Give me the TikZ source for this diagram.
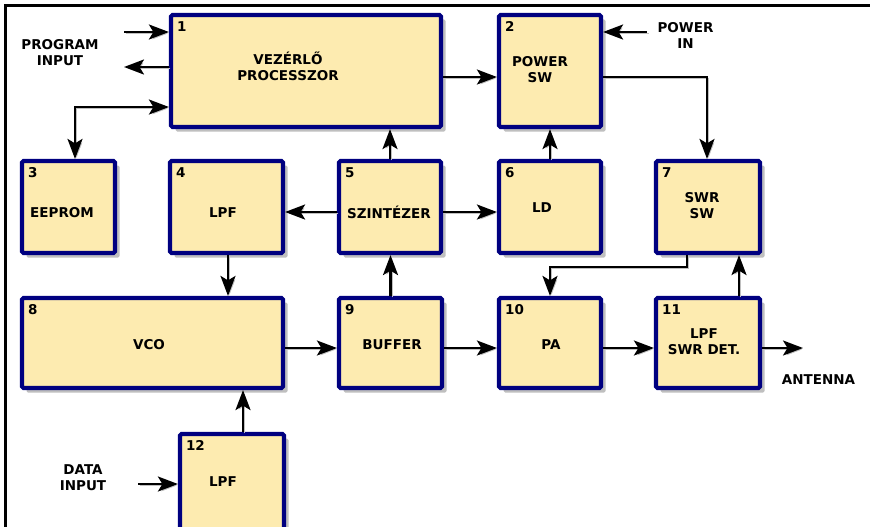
\documentclass[tikz,border=0pt]{standalone}
\usepackage{fontspec}
\setmainfont{DejaVu Sans}
\usetikzlibrary{arrows.meta,shadows}

\definecolor{blokkfill}{RGB}{253,235,176}
\definecolor{blokkkeret}{RGB}{0,0,128}

\tikzset{
  >={Stealth[length=20pt,width=15pt,inset=4.5pt]},
  blokk/.style={draw=blokkkeret, fill=blokkfill, line width=4.2pt, rounded corners=1.5pt,
    inner sep=0pt, drop shadow={shadow xshift=4.5pt, shadow yshift=-4.5pt, fill=black, opacity=0.25}},
  felirat/.style={font=\fontsize{13.5}{16}\selectfont\bfseries, align=center, inner sep=0pt},
  szam/.style={font=\fontsize{13.5}{16}\selectfont\bfseries, inner sep=0pt},
  nyil/.style={line width=2.3pt, ->, preaction={draw=black!25, transform canvas={shift={(1.5pt,-1.5pt)}}}},
  ketnyil/.style={nyil, <->},
}

\begin{document}
\begin{tikzpicture}[x=1pt,y=-1pt]
  \clip (0,0) rectangle (870,527);
  \draw[line width=2.5pt] (5.3,5.3) rectangle (900,560);

  % blocks with their numbers
  \foreach \n/\cx/\cy/\w/\h in {1/306/71/270/112, 2/550/71/102/112,
      3/68.5/207/93/92, 4/226.5/207/113/92, 5/390/207/102/92, 6/550/207/102/92, 7/708/207/104/92,
      8/152.5/343/261/90, 9/390.5/343/103/90, 10/550/343/102/90, 11/708/343/104/90,
      12/232/496/104/124} {
    \node[blokk, minimum width=\w pt, minimum height=\h pt] (b\n) at (\cx,\cy) {};
    \node[szam, anchor=base west] (n\n) at ([shift={(8pt,-19pt)}]b\n.north west) {\n};
  }

  % block texts
  \foreach \n/\tx/\ty/\t in {1/288/66/{VEZÉRLŐ\\PROCESSZOR}, 2/540/70/{POWER\\SW},
      3/62/213/EEPROM, 4/223/213/LPF, 5/389/212/SZINTÉZER, 6/542/208/LD, 7/702/206/{SWR\\SW},
      8/149/345/VCO, 9/392/345/BUFFER, 10/551/345/PA, 11/704/342/{LPF\\SWR DET.},
      12/223/482/LPF} {
    \node[felirat] (t\n) at (\tx,\ty) {\t};
  }

  % outside labels
  \node[felirat] (progin) at (60,53) {PROGRAM\\INPUT};
  \node[felirat] (powerin) at (685.5,35) {POWER\\IN};
  \node[felirat] (datain) at (83,478) {DATA\\INPUT};
  \node[felirat] (antenna) at (818.5,380) {ANTENNA};

  \coordinate (progbe) at (124,32);
  \coordinate (progki) at (124,67);
  \coordinate (eep) at (75,107);
  \coordinate (powbe) at (647,32);
  \coordinate (antki) at (803,348);
  \coordinate (datbe) at (138,484);

  % connections
  \draw[nyil] (progbe) -- (progbe -| b1.west);
  \draw[nyil] (progki -| b1.west) -- (progki);
  \draw[ketnyil] (b1.west |- eep) -- (eep) -- (eep |- b3.north);
  \draw[nyil] ([yshift=-6pt]b1.east) -- ([yshift=-6pt]b2.west);
  \draw[nyil] (powbe) -- (powbe -| b2.east);
  \draw[nyil] ([yshift=-6pt]b2.east) -| ([xshift=-1pt]b7.north);
  \draw[nyil] (b5.north) -- (b5.north |- b1.south);
  \draw[nyil] (b6.north) -- (b2.south);
  \draw[nyil] ([yshift=-5pt]b5.west) -- ([yshift=-5pt]b4.east);
  \draw[nyil] ([yshift=-5pt]b5.east) -- ([yshift=-5pt]b6.west);
  \draw[nyil] ([xshift=1.5pt]b4.south) -- ([xshift=1.5pt]b4.south |- b8.north);
  \draw[nyil] (b9.north) -- (b9.north |- b5.south);
  \draw[nyil] ([xshift=-21pt]b7.south) -- ++(0,12) -| (b10.north);
  \draw[nyil] ([xshift=31pt]b11.north) -- ([xshift=31pt]b7.south);
  \draw[nyil] ([yshift=-5pt]b8.east) -- ([yshift=-5pt]b9.west);
  \draw[nyil] ([yshift=-5pt]b9.east) -- ([yshift=-5pt]b10.west);
  \draw[nyil] ([yshift=-5pt]b10.east) -- ([yshift=-5pt]b11.west);
  \draw[nyil] ([yshift=-5pt]b11.east) -- (antki);
  \draw[nyil] ([xshift=11pt]b12.north) -- ([xshift=11pt]b12.north |- b8.south);
  \draw[nyil] (datbe) -- (datbe -| b12.west);
\end{tikzpicture}
\end{document}
